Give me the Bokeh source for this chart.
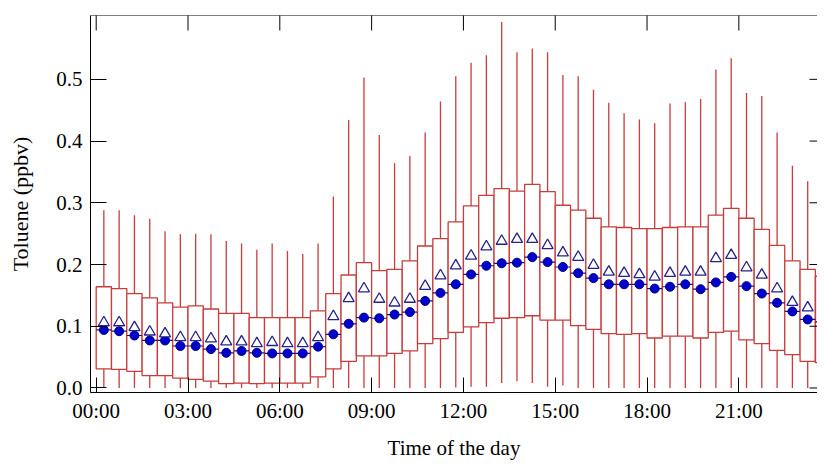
import math
from bokeh.plotting import figure
from bokeh.models import ColumnDataSource, FixedTicker, Range1d, PrintfTickFormatter, Span
from bokeh.embed import file_html
from bokeh.resources import INLINE

# half-hour slots (centre of each bin)
slots = ["00:15", "00:45", "01:15", "01:45", "02:15", "02:45", "03:15", "03:45",
         "04:15", "04:45", "05:15", "05:45", "06:15", "06:45", "07:15", "07:45",
         "08:15", "08:45", "09:15", "09:45", "10:15", "10:45", "11:15", "11:45",
         "12:15", "12:45", "13:15", "13:45", "14:15", "14:45", "15:15", "15:45",
         "16:15", "16:45", "17:15", "17:45", "18:15", "18:45", "19:15", "19:45",
         "20:15", "20:45", "21:15", "21:45", "22:15", "22:45", "23:15", "23:45"]

median = [0.094, 0.092, 0.085, 0.077, 0.077, 0.068, 0.068, 0.063,
          0.057, 0.060, 0.057, 0.056, 0.056, 0.056, 0.067, 0.087,
          0.104, 0.114, 0.113, 0.119, 0.123, 0.141, 0.154, 0.168,
          0.184, 0.198, 0.202, 0.203, 0.212, 0.204, 0.196, 0.186,
          0.178, 0.168, 0.168, 0.168, 0.161, 0.164, 0.168, 0.160,
          0.171, 0.180, 0.165, 0.153, 0.138, 0.124, 0.111, 0.107]

mean = [0.106, 0.106, 0.098, 0.091, 0.088, 0.082, 0.082, 0.080,
        0.075, 0.075, 0.072, 0.074, 0.072, 0.072, 0.082, 0.116,
        0.145, 0.161, 0.144, 0.138, 0.144, 0.165, 0.182, 0.198,
        0.214, 0.229, 0.238, 0.241, 0.241, 0.231, 0.219, 0.212,
        0.199, 0.188, 0.186, 0.184, 0.180, 0.186, 0.188, 0.188,
        0.210, 0.215, 0.195, 0.183, 0.161, 0.139, 0.130, 0.121]

q75 = [0.164, 0.161, 0.153, 0.146, 0.138, 0.131, 0.133, 0.128,
       0.121, 0.121, 0.114, 0.114, 0.114, 0.114, 0.125, 0.153,
       0.183, 0.203, 0.190, 0.192, 0.206, 0.230, 0.242, 0.269,
       0.295, 0.312, 0.323, 0.319, 0.330, 0.318, 0.296, 0.288,
       0.275, 0.261, 0.260, 0.258, 0.258, 0.260, 0.261, 0.261,
       0.280, 0.291, 0.275, 0.257, 0.231, 0.206, 0.192, 0.181]

q25 = [0.031, 0.030, 0.027, 0.020, 0.020, 0.016, 0.014, 0.011,
       0.007, 0.008, 0.007, 0.008, 0.008, 0.008, 0.018, 0.031,
       0.043, 0.052, 0.052, 0.056, 0.060, 0.072, 0.080, 0.090,
       0.099, 0.106, 0.113, 0.114, 0.117, 0.110, 0.110, 0.101,
       0.095, 0.088, 0.087, 0.088, 0.081, 0.084, 0.084, 0.081,
       0.090, 0.092, 0.078, 0.072, 0.061, 0.054, 0.043, 0.041]

whisk_hi = [0.288, 0.288, 0.280, 0.274, 0.254, 0.249, 0.250, 0.249,
            0.238, 0.234, 0.224, 0.234, 0.222, 0.217, 0.234, 0.310,
            0.434, 0.503, 0.410, 0.364, 0.376, 0.414, 0.464, 0.505,
            0.527, 0.539, 0.593, 0.544, 0.550, 0.544, 0.507, 0.505,
            0.483, 0.462, 0.445, 0.435, 0.429, 0.461, 0.463, 0.468,
            0.516, 0.534, 0.478, 0.473, 0.414, 0.360, 0.335, 0.330]

whisk_lo = [0.0, 0.0, 0.0, 0.0, 0.0, 0.0, 0.0, 0.0,
            0.0, 0.0, 0.0, 0.0, 0.0, 0.0, 0.0, 0.0,
            0.0, 0.0, 0.0, 0.0, 0.0, 0.0, 0.0, 0.001,
            0.002, 0.002, 0.008, 0.011, 0.008, 0.002, 0.004, 0.0,
            0.0, 0.0, 0.0, 0.0, 0.0, 0.0, 0.0, 0.0,
            0.0, 0.0, 0.0, 0.0, 0.0, 0.0, 0.0, 0.0]

tick_labels = ["00:00", "03:00", "06:00", "09:00", "12:00", "15:00", "18:00", "21:00"]
y_ticks = [0.0, 0.1, 0.2, 0.3, 0.4, 0.5]


def to_hours(s):
    return int(s[:2]) + int(s[3:]) / 60.0


hours = [to_hours(s) for s in slots]
tick_hours = [to_hours(s) for s in tick_labels]

src = ColumnDataSource(data=dict(
    x=hours, x0=[h - 0.25 for h in hours], x1=[h + 0.25 for h in hours],
    med=median, mean=mean, q1=q25, q3=q75, lo=whisk_lo, hi=whisk_hi))

FONT = "Liberation Serif"
RED = "#c83c3c"
X0, X1 = -0.186, 23.57
Y0, Y1 = -0.0073, 0.6034

p = figure(width=817, height=462, x_range=Range1d(X0, X1), y_range=Range1d(Y0, Y1),
           output_backend="svg", toolbar_location=None,
           min_border_left=90, min_border_right=0, min_border_top=15, min_border_bottom=69,
           x_axis_label="Time of the day", y_axis_label="Toluene (ppbv)")
p.outline_line_color = None
p.xgrid.grid_line_color = None
p.ygrid.grid_line_color = None
p.background_fill_color = "white"

# whiskers, boxes, median line, markers
p.segment(x0="x", y0="lo", x1="x", y1="hi", source=src, line_color=RED, line_width=1.3)
p.vbar(x="x", width=0.5, bottom="q1", top="q3", source=src,
       fill_color="white", line_color=RED, line_width=1.3)
p.segment(x0="x0", y0="med", x1="x1", y1="med", source=src, line_color="#1a1a6e", line_width=1.2)
p.scatter(x="x", y="med", source=src, marker="circle", size=9,
          fill_color="#0000cc", line_color="#00008b", line_width=1)
p.scatter(x="x", y="mean", source=src, marker="triangle", size=11,
          fill_color="white", line_color="#23238c", line_width=1.3)

# mirrored frame: top line with inward ticks, right inward ticks (clipped to the frame)
p.add_layout(Span(location=Y1, dimension="width", line_color="black", line_width=1))
p.scatter(x=tick_hours, y=[Y1] * len(tick_hours), marker="dash", size=30, angle=math.pi / 2,
          line_color="black", line_width=1)
p.scatter(x=[X1] * len(y_ticks), y=y_ticks, marker="dash", size=16,
          line_color="black", line_width=1)

# bottom / left axes
xa = p.xaxis[0]
xa.ticker = FixedTicker(ticks=tick_hours)
xa.major_label_overrides = {h: lab for h, lab in zip(tick_hours, tick_labels)}
ya = p.yaxis[0]
ya.ticker = FixedTicker(ticks=y_ticks)
ya.formatter = PrintfTickFormatter(format="%.1f")
ya.major_tick_in = 16
xa.major_tick_in = 15
ya.major_label_standoff = 8
xa.major_label_standoff = 6
ya.axis_label_standoff = 20
xa.axis_label_standoff = 10

for ax in (xa, ya):
    ax.major_tick_out = 0
    ax.minor_tick_line_color = None
    ax.axis_line_color = "black"
    ax.major_tick_line_color = "black"
    ax.major_label_text_font = FONT
    ax.major_label_text_font_size = "21px"
    ax.major_label_text_color = "black"
    ax.axis_label_text_font = FONT
    ax.axis_label_text_font_style = "normal"
    ax.axis_label_text_color = "black"
xa.axis_label_text_font_size = "21px"
ya.axis_label_text_font_size = "22px"

open("out.html", "w").write(file_html(p, INLINE))
